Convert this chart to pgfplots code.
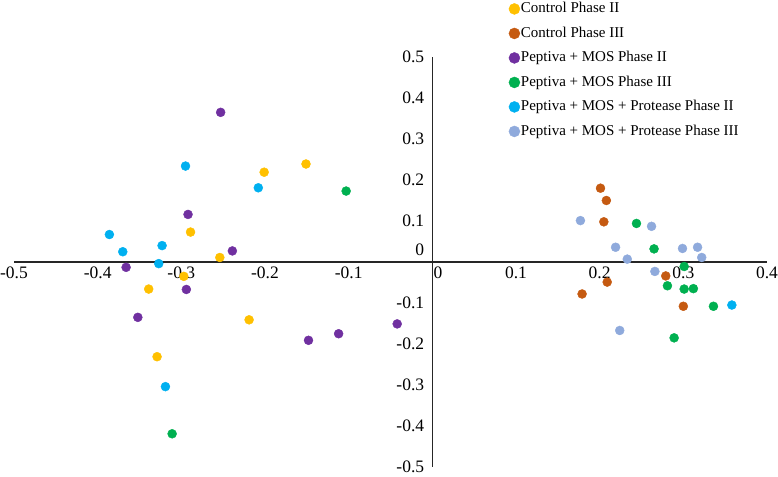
\documentclass[border=0pt]{standalone}
\usepackage{fontspec}
\setmainfont{Liberation Serif}
\usepackage{pgfplots}
\pgfplotsset{compat=1.18}
\definecolor{cyel}{HTML}{FFC000}
\definecolor{corg}{HTML}{C55A11}
\definecolor{cpur}{HTML}{7030A0}
\definecolor{cgrn}{HTML}{00B050}
\definecolor{ccyn}{HTML}{00B0F0}
\definecolor{clbl}{HTML}{8FAADC}
\begin{document}
\begin{tikzpicture}[x=1pt,y=1pt]
\useasboundingbox (-14,-9) rectangle (764,467);
\begin{axis}[
  at={(0,0)}, anchor=south west,
  scale only axis, width=753pt, height=410pt,
  xmin=-0.5, xmax=0.4, ymin=-0.5, ymax=0.5,
  axis lines=middle, axis line style={-, line width=1.4pt, black!85},
  major tick length=0pt,
  xtick={-0.5,-0.4,-0.3,-0.2,-0.1,0,0.1,0.2,0.3,0.4},
  xticklabels={-0.5,-0.4,-0.3,-0.2,-0.1,,0.1,0.2,0.3,0.4},
  ytick={-0.5,-0.4,-0.3,-0.2,-0.1,0,0.1,0.2,0.3,0.4,0.5},
  yticklabels={-0.5,-0.4,-0.3,-0.2,-0.1,,0.1,0.2,0.3,0.4,0.5},
  tick label style={font=\fontsize{17.5}{20}\selectfont, inner sep=1pt},
  xticklabel style={anchor=north, yshift=-4pt},
  yticklabel style={anchor=east, xshift=-7pt},
  clip=false,
  legend style={at={(axis description cs:0.657,1.1366)}, anchor=north west, draw=none, fill=none,
    inner sep=0pt, font=\fontsize{15}{18}\selectfont, row sep=9pt,
    nodes={inner sep=1pt, text height=10.5pt, text depth=3pt}},
  legend cell align=left,
  legend image code/.code={\draw[mark repeat=2,mark phase=2,#1,mark size=5.5pt] plot coordinates {(0pt,0pt)(5.5pt,0pt)(11pt,0pt)};},
  every axis plot/.append style={only marks, mark=*, mark size=4.5pt},
]
\addplot[color=cyel] coordinates {(-0.201,0.219) (-0.151,0.239) (-0.289,0.073) (-0.254,0.011) (-0.297,-0.035) (-0.339,-0.066) (-0.219,-0.141) (-0.329,-0.231)};
\addlegendentry{Control Phase II}
\addplot[color=corg] coordinates {(0.201,0.180) (0.208,0.150) (0.205,0.098) (0.209,-0.049) (0.179,-0.078) (0.279,-0.034) (0.300,-0.108)};
\addlegendentry{Control Phase III}
\addplot[color=cpur] coordinates {(-0.253,0.365) (-0.292,0.116) (-0.239,0.027) (-0.366,-0.013) (-0.294,-0.067) (-0.352,-0.135) (-0.148,-0.191) (-0.112,-0.175) (-0.042,-0.151)};
\addlegendentry{Peptiva + MOS Phase II}
\addplot[color=cgrn] coordinates {(-0.103,0.173) (-0.311,-0.419) (0.244,0.094) (0.265,0.032) (0.301,-0.011) (0.281,-0.058) (0.301,-0.066) (0.312,-0.065) (0.336,-0.108) (0.289,-0.185)};
\addlegendentry{Peptiva + MOS Phase III}
\addplot[color=ccyn] coordinates {(-0.295,0.234) (-0.208,0.181) (-0.386,0.067) (-0.370,0.025) (-0.323,0.040) (-0.327,-0.004) (-0.319,-0.304) (0.358,-0.105)};
\addlegendentry{Peptiva + MOS + Protease Phase II}
\addplot[color=clbl] coordinates {(0.177,0.101) (0.262,0.087) (0.219,0.036) (0.233,0.007) (0.266,-0.023) (0.299,0.033) (0.317,0.036) (0.322,0.011) (0.224,-0.167)};
\addlegendentry{Peptiva + MOS + Protease Phase III}
\node[anchor=east, font=\fontsize{17.5}{20}\selectfont, inner sep=1pt, xshift=-7pt, yshift=12pt] at (axis cs:0,0) {0};
\node[anchor=north west, font=\fontsize{17.5}{20}\selectfont, inner sep=1pt, xshift=0pt, yshift=-4pt] at (axis cs:0,0) {0};
\end{axis}
\end{tikzpicture}
\end{document}
